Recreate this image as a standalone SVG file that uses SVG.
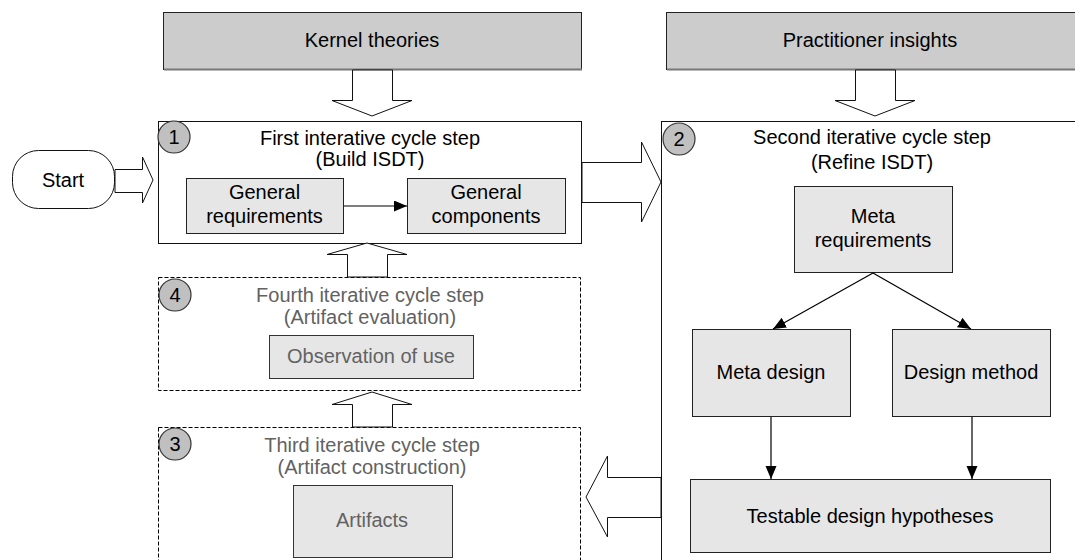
<svg xmlns="http://www.w3.org/2000/svg" width="1075" height="560" viewBox="0 0 1075 560">
<defs>
<style>
text{font-family:"Liberation Sans",Arial,sans-serif;font-size:20px;fill:#000;text-anchor:middle}
.g{fill:#626262}
.top{fill:#cccccc;stroke:#222;stroke-width:1}
.shadow{fill:none;stroke:#777;stroke-width:2}
.frame{fill:#fff;stroke:#111;stroke-width:1}
.dash{fill:#fff;stroke:#000;stroke-width:1;stroke-dasharray:4 2}
.inner{fill:#e6e6e6;stroke:#222;stroke-width:1}
.innerg{fill:#e6e6e6;stroke:#333;stroke-width:1}
.num{fill:#c0c0c0;stroke:#333;stroke-width:1.2}
.big{fill:#fff;stroke:#111;stroke-width:1}
.thin{fill:none;stroke:#000;stroke-width:1.2;marker-end:url(#ah)}
</style>
<marker id="ah" markerUnits="userSpaceOnUse" markerWidth="14" markerHeight="12" refX="13" refY="5.5" orient="auto">
<path d="M0,0 L13,5.5 L0,11 z" fill="#000"/>
</marker>
</defs>

<g id="step2">
<rect class="frame" x="661.5" y="121.5" width="430" height="460"/>
<circle class="num" cx="679" cy="139" r="16"/>
<text x="679" y="146">2</text>
<text x="872" y="144">Second iterative cycle step</text>
<text x="872" y="169">(Refine ISDT)</text>
</g>

<g id="kernel">
<rect class="top" x="163.5" y="12.5" width="418" height="57"/>
<line class="shadow" x1="164" y1="69.5" x2="582" y2="69.5"/>
<text x="372" y="47">Kernel theories</text>
</g>
<g id="practitioner">
<rect class="top" x="666.5" y="12.5" width="420" height="57"/>
<line class="shadow" x1="667" y1="69.5" x2="1075" y2="69.5"/>
<text x="870" y="47">Practitioner insights</text>
</g>

<g id="start">
<rect class="frame" x="12.5" y="150.5" width="102" height="58" rx="26" ry="26"/>
<text x="63" y="187">Start</text>
</g>

<g id="step1">
<rect class="frame" x="158.5" y="121.5" width="423" height="122"/>
<circle class="num" cx="174" cy="137" r="16"/>
<text x="174" y="144">1</text>
<text x="370" y="145">First interative cycle step</text>
<text x="370" y="166">(Build ISDT)</text>
</g>
<g id="general-requirements">
<rect class="inner" x="186.5" y="178.5" width="157" height="55"/>
<text x="264.5" y="199">General</text>
<text x="264.5" y="223">requirements</text>
</g>
<g id="general-components">
<rect class="inner" x="407.5" y="178.5" width="158" height="55"/>
<text x="486" y="199">General</text>
<text x="486" y="223">components</text>
</g>

<g id="step4">
<rect class="dash" x="158.5" y="277.5" width="422" height="113"/>
<circle class="num" cx="175" cy="295" r="16"/>
<text x="175" y="302">4</text>
<text class="g" x="370" y="302">Fourth iterative cycle step</text>
<text class="g" x="370" y="324">(Artifact evaluation)</text>
</g>
<g id="observation">
<rect class="innerg" x="269.5" y="335.5" width="204" height="43"/>
<text class="g" x="371" y="363">Observation of use</text>
</g>

<g id="step3">
<rect class="dash" x="158.5" y="427.5" width="422" height="150"/>
<circle class="num" cx="175" cy="444" r="16"/>
<text x="175" y="451">3</text>
<text class="g" x="372" y="452">Third iterative cycle step</text>
<text class="g" x="372" y="474">(Artifact construction)</text>
</g>
<g id="artifacts">
<rect class="innerg" x="293.5" y="485.5" width="159" height="72"/>
<text class="g" x="372" y="527">Artifacts</text>
</g>

<g id="meta-requirements">
<rect class="inner" x="794.5" y="186.5" width="158" height="86"/>
<text x="873" y="223">Meta</text>
<text x="873" y="247">requirements</text>
</g>
<g id="meta-design">
<rect class="inner" x="692.5" y="329.5" width="158" height="87"/>
<text x="771" y="379">Meta design</text>
</g>
<g id="design-method">
<rect class="inner" x="892.5" y="329.5" width="158" height="87"/>
<text x="971" y="379">Design method</text>
</g>
<g id="hypotheses">
<rect class="inner" x="690.5" y="479.5" width="360" height="73"/>
<text x="870" y="523">Testable design hypotheses</text>
</g>

<g id="connectors">
<polygon class="big" points="352.5,70 392.5,70 392.5,100.5 412,100.5 372,116 332,100.5 352.5,100.5"/>
<polygon class="big" points="855.5,70 895.5,70 895.5,100.5 915,100.5 875,116 835,100.5 855.5,100.5"/>
<polygon class="big" points="115,169.5 142.5,169.5 142.5,157 153,180 142.5,203 142.5,192.5 115,192.5"/>
<polygon class="big" points="582,162.5 641.5,162.5 641.5,142 661,182 641.5,222 641.5,202.5 582,202.5"/>
<polygon class="big" points="347.5,277 347.5,254.5 327,254.5 367,243 407,254.5 387.5,254.5 387.5,277"/>
<polygon class="big" points="352.5,427 352.5,404.5 332,404.5 372,392 412,404.5 392.5,404.5 392.5,427"/>
<polygon class="big" points="661,477.5 607.5,477.5 607.5,456 586,497 607.5,537 607.5,517.5 661,517.5"/>
<line class="thin" x1="344" y1="206" x2="407" y2="206"/>
<line class="thin" x1="873" y1="273" x2="773" y2="329"/>
<line class="thin" x1="873" y1="273" x2="971" y2="329"/>
<line class="thin" x1="771" y1="417" x2="771" y2="479"/>
<line class="thin" x1="972" y1="417" x2="972" y2="479"/>
</g>
</svg>
